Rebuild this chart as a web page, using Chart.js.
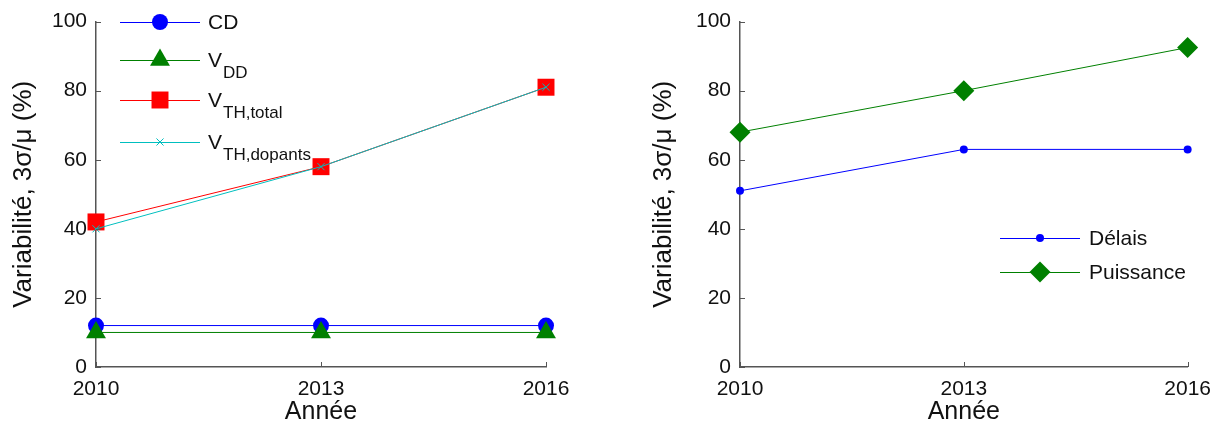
<!DOCTYPE html>
<html>
<head>
<meta charset="utf-8">
<script src="https://cdn.jsdelivr.net/npm/chart.js@4/dist/chart.umd.min.js"></script>
<style>
    body { margin: 0; background: #fff; }
    #wrap { position: relative; width: 1221px; height: 430px; }
    .box { position: absolute; top: 0; height: 430px; }
    #leftBox { left: 0; width: 600px; }
    #rightBox { left: 640px; width: 581px; }
</style>
</head>
<body>
<div id="wrap">
    <div class="box" id="leftBox"><canvas id="tech" width="600" height="430"></canvas></div>
    <div class="box" id="rightBox"><canvas id="circuit" width="581" height="430"></canvas></div>
</div>
<script>
// Years on the x axis
const years = ["2010", "2013", "2016"];
const yTicks = [0, 20, 40, 60, 80, 100];

// Left panel: device parameters
const cdValues = [12, 12, 12];
const vddValues = [10, 10, 10];
const vthTotalValues = [42, 58, 81];
const vthDopantValues = [40, 58, 81];
const leftLabels = ["CD", "V_DD", "V_TH,total", "V_TH,dopants"];

// Right panel: circuit performance
const delayValues = [51, 63, 63];
const powerValues = [68, 80, 92.5];
const rightLabels = ["Délais", "Puissance"];

const FONT = "'Liberation Sans', Arial, sans-serif";
const AXIS_COLOR = "#555";
Chart.defaults.font.family = FONT;
Chart.defaults.color = "#111";

// small inward tick marks, matlab style
const inwardTicks = {
    id: "inwardTicks",
    afterDatasetsDraw(chart) {
        const { ctx, chartArea, scales } = chart;
        ctx.save();
        ctx.strokeStyle = AXIS_COLOR;
        ctx.lineWidth = 1;
        scales.y.ticks.forEach((t) => {
            const y = Math.round(scales.y.getPixelForValue(t.value)) + 0.5;
            ctx.beginPath();
            ctx.moveTo(chartArea.left, y);
            ctx.lineTo(chartArea.left + 5, y);
            ctx.stroke();
        });
        scales.x.ticks.forEach((t, i) => {
            const x = Math.round(scales.x.getPixelForTick(i)) + 0.5;
            ctx.beginPath();
            ctx.moveTo(x, chartArea.bottom);
            ctx.lineTo(x, chartArea.bottom - 5);
            ctx.stroke();
        });
        ctx.restore();
    },
};

// legend with subscripts ("V_DD" -> V + subscript DD)
const subLegend = {
    id: "subLegend",
    afterDraw(chart, args, opts) {
        const ctx = chart.ctx;
        ctx.save();
        chart.data.datasets.forEach((ds, i) => {
            const y = opts.rows[i];
            ctx.strokeStyle = ds.borderColor;
            ctx.lineWidth = 1;
            ctx.beginPath();
            ctx.moveTo(opts.x0, y + 0.5);
            ctx.lineTo(opts.x1, y + 0.5);
            ctx.stroke();
            ctx.fillStyle = ds.pointBackgroundColor;
            ctx.strokeStyle = ds.pointBorderColor;
            Chart.helpers.drawPoint(ctx, {
                pointStyle: ds.pointStyle,
                radius: ds.pointRadius,
                rotation: 0,
                borderWidth: ds.pointBorderWidth,
            }, (opts.x0 + opts.x1) / 2, y);

            const [main, sub] = ds.label.split("_");
            ctx.fillStyle = "#111";
            ctx.textBaseline = "middle";
            ctx.font = opts.size + "px " + FONT;
            ctx.fillText(main, opts.textX, y + 1);
            if (sub) {
                const w = ctx.measureText(main).width;
                ctx.font = Math.round(opts.size * 0.8) + "px " + FONT;
                ctx.fillText(sub, opts.textX + w + 1, y + 13);
            }
        });
        ctx.restore();
    },
};

function axes(yWidth) {
    return {
        x: {
            type: "category",
            offset: false,
            grid: { display: false, drawTicks: false },
            border: { display: true, color: AXIS_COLOR, width: 1.5 },
            ticks: { padding: 10, font: { size: 21 }, color: "#111", maxRotation: 0 },
            title: { display: true, text: "Année", font: { size: 25 }, color: "#111", padding: { top: 0, bottom: 3 } },
            afterFit: (s) => { s.height = 63; },
        },
        y: {
            min: 0,
            max: 100,
            afterBuildTicks: (s) => { s.ticks = yTicks.map((v) => ({ value: v })); },
            grid: { display: false, drawTicks: false },
            border: { display: true, color: AXIS_COLOR, width: 1.5 },
            ticks: { padding: 9, font: { size: 21 }, color: "#111" },
            title: { display: true, text: "Variabilité, 3σ/μ (%)", font: { size: 26 }, color: "#111", padding: { top: 8, bottom: 0 } },
            afterFit: (s) => { s.width = yWidth; },
        },
    };
}

function series(label, data, color, style, radius, order, extra) {
    return Object.assign({
        label: label,
        data: data,
        borderColor: color,
        borderWidth: 1,
        pointStyle: style,
        pointRadius: radius,
        pointHoverRadius: radius,
        pointBackgroundColor: color,
        pointBorderColor: color,
        pointBorderWidth: 0,
        order: order,
        tension: 0,
        clip: false,
    }, extra || {});
}

new Chart(document.getElementById("tech"), {
    type: "line",
    data: {
        labels: years,
        datasets: [
            series(leftLabels[0], cdValues, "#0000FF", "circle", 8, 4),
            series(leftLabels[1], vddValues, "#008000", "triangle", 11.5, 3),
            series(leftLabels[2], vthTotalValues, "#FF0000", "rect", 12, 2),
            series(leftLabels[3], vthDopantValues, "#00BFBF", "crossRot", 5, 1, { pointBorderWidth: 1 }),
        ],
    },
    options: {
        responsive: false,
        animation: false,
        events: [],
        layout: { padding: { left: 0, right: 54, top: 20, bottom: 0 } },
        scales: axes(96),
        plugins: {
            legend: { display: false },
            tooltip: { enabled: false },
            subLegend: { x0: 120, x1: 200, textX: 208, size: 21, rows: [22, 60, 100, 142] },
        },
    },
    plugins: [inwardTicks, subLegend],
});

new Chart(document.getElementById("circuit"), {
    type: "line",
    data: {
        labels: years,
        datasets: [
            series(rightLabels[0], delayValues, "#0000FF", "circle", 4, 2),
            series(rightLabels[1], powerValues, "#008000", "rectRot", 10.5, 1),
        ],
    },
    options: {
        responsive: false,
        animation: false,
        events: [],
        layout: { padding: { left: 0, right: 33, top: 20, bottom: 0 } },
        scales: axes(100),
        plugins: {
            legend: { display: false },
            tooltip: { enabled: false },
            subLegend: { x0: 1000 - 640, x1: 1080 - 640, textX: 1089 - 640, size: 21, rows: [238, 272] },
        },
    },
    plugins: [inwardTicks, subLegend],
});
</script>
</body>
</html>
